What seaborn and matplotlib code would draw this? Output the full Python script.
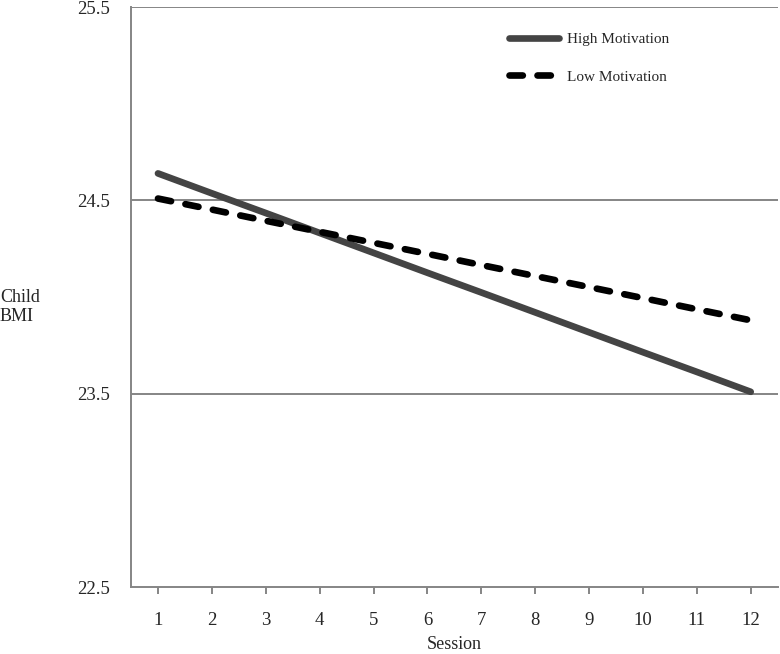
import numpy as np
import pandas as pd
import matplotlib
matplotlib.use("Agg")
import matplotlib.pyplot as plt
import seaborn as sns

sessions = list(range(1, 13))
high_motivation = [24.640, 24.537, 24.435, 24.332, 24.229, 24.126,
                   24.024, 23.921, 23.818, 23.715, 23.613, 23.510]
low_motivation = [24.510, 24.453, 24.395, 24.338, 24.281, 24.224,
                  24.166, 24.109, 24.052, 23.995, 23.937, 23.880]

dados = pd.DataFrame({
    "Session": sessions * 2,
    "BMI": high_motivation + low_motivation,
    "Group": ["High Motivation"] * 12 + ["Low Motivation"] * 12,
})

sns.set_style("white")
plt.rcParams['font.family'] = ['Liberation Serif', 'DejaVu Serif']

fig = plt.figure(figsize=(7.8, 6.54), dpi=100)
ax = fig.add_axes([0.168, 0.1024, 0.829, 0.8866])

sns.lineplot(data=dados, x="Session", y="BMI", hue="Group", style="Group",
             palette={"High Motivation": "#444444", "Low Motivation": "#000000"},
             dashes={"High Motivation": "", "Low Motivation": (2.0, 2.2)},
             linewidth=4.8, ax=ax, legend=True)
for ln in ax.get_lines():
    ln.set_solid_capstyle("round")
    ln.set_dash_capstyle("round")

ax.set_xlim(0.5, 12.5)
ax.set_ylim(22.5, 25.5)
ax.set_xticks(sessions)
ax.set_yticks([22.5, 23.5, 24.5, 25.5])
ax.set_yticklabels(["22.5", "23.5", "24.5", "25.5"])
for y in [23.5, 24.5, 25.5]:
    ax.axhline(y, color="#858585", linewidth=1.4, zorder=0)

for s in ["top", "right"]:
    ax.spines[s].set_visible(False)
for s in ["left", "bottom"]:
    ax.spines[s].set_color("#858585")
    ax.spines[s].set_linewidth(1.4)

ax.tick_params(axis="x", direction="out", length=5, width=1.4, color="#858585",
               labelsize=13.5, pad=13, bottom=True)
ax.tick_params(axis="y", length=0, labelsize=13.5, pad=15)

ax.set_xlabel("Session", fontsize=13, labelpad=5)
ax.set_ylabel("")
fig.text(0.0, 0.530, "Child\nBMI", fontsize=13, ha="left", va="center", linespacing=1.15)

leg = ax.legend(frameon=False, loc="upper left", bbox_to_anchor=(0.563, 0.98),
                fontsize=11, handlelength=3.3, labelspacing=1.55, handletextpad=0.5)
for h in leg.get_lines():
    h.set_linewidth(4.8)

fig.savefig("out.png", dpi=100)
